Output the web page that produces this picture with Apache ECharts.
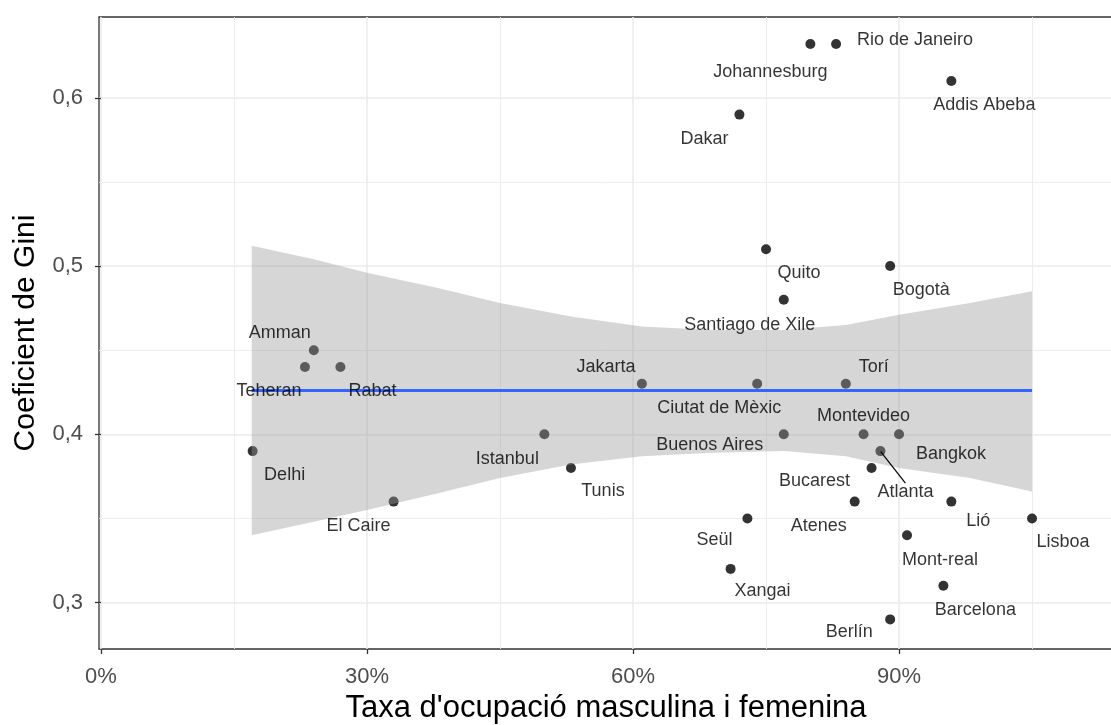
<!DOCTYPE html>
<html>
<head>
<meta charset="utf-8">
<script src="https://cdn.jsdelivr.net/npm/echarts@6/dist/echarts.min.js"></script>
<style>
html,body{margin:0;padding:0;background:#fff;}
#chart{width:1111px;height:725px;}
</style>
</head>
<body>
<div id="chart"></div>
<script>
// ---- data ----
const cities = ['Rio de Janeiro','Johannesburg','Addis Abeba','Dakar','Quito','Santiago de Xile','Bogotà','Amman','Teheran','Rabat','Delhi','El Caire','Jakarta','Ciutat de Mèxic','Istanbul','Tunis','Buenos Aires','Seül','Xangai','Torí','Montevideo','Bangkok','Atlanta','Bucarest','Atenes','Lió','Lisboa','Mont-real','Barcelona','Berlín'];
const occupation = [82.9,80.0,95.9,72.0,75.0,77.0,89.0,24.0,23.0,27.0,17.1,33.0,61.0,74.0,50.0,53.0,77.0,72.9,71.0,84.0,86.0,90.0,87.9,86.9,85.0,95.9,105.0,90.9,95.0,89.0];
const gini = [0.632,0.632,0.610,0.590,0.510,0.480,0.500,0.450,0.440,0.440,0.390,0.360,0.430,0.430,0.400,0.380,0.400,0.350,0.320,0.430,0.400,0.400,0.390,0.380,0.360,0.360,0.350,0.340,0.310,0.290];

// fitted line (lm) and its confidence band
const fitX = [17, 105];
const fitY = [0.426, 0.426];
const bandX = [17, 24, 30, 38, 45, 53, 61, 69, 77, 84, 90, 98, 105];
const bandUpper = [0.512, 0.504, 0.496, 0.487, 0.478, 0.470, 0.464, 0.462, 0.462, 0.465, 0.471, 0.478, 0.485];
const bandLower = [0.340, 0.348, 0.355, 0.365, 0.374, 0.382, 0.387, 0.389, 0.390, 0.387, 0.380, 0.374, 0.366];

// ticks
const xTicks = [0, 30, 60, 90];
const xMinor = [15, 45, 75, 105];
const yTicks = [0.3, 0.4, 0.5, 0.6];
const yMinor = [0.35, 0.45, 0.55];

// ---- label placement (pixel offsets, repel-style) ----
const labelOffset = {
  'Rio de Janeiro':[79,-4], 'Johannesburg':[-40,28], 'Addis Abeba':[33,24], 'Dakar':[-35,24],
  'Quito':[33,24], 'Santiago de Xile':[-34,25], 'Bogotà':[31,24], 'Amman':[-34,-17],
  'Teheran':[-36,24], 'Rabat':[32,24], 'Delhi':[32,24], 'El Caire':[-35,24],
  'Jakarta':[-36,-17], 'Ciutat de Mèxic':[-38,24], 'Istanbul':[-37,25], 'Tunis':[32,23],
  'Buenos Aires':[-74,11], 'Seül':[-33,22], 'Xangai':[32,22], 'Torí':[28,-17],
  'Montevideo':[0,-18], 'Bangkok':[52,20], 'Atlanta':[25,41], 'Bucarest':[-57,13],
  'Atenes':[-36,24], 'Lió':[27,19], 'Lisboa':[31,24], 'Mont-real':[33,25],
  'Barcelona':[32,24], 'Berlín':[-41,13]
};

const FONT = "'Liberation Sans', Arial, sans-serif";

// layout
const GRID_LEFT = 99, GRID_TOP = 17, GRID_W = 1014, GRID_H = 632;
const X_MIN = -0.226, X_MAX = 114.13;
const Y_MIN = 0.2724, Y_MAX = 0.6480;

const points = cities.map((c, i) => [occupation[i], gini[i]]);
const labelData = cities.map((c, i) => {
  const item = {
    name: c,
    value: [occupation[i], gini[i]],
    label: { offset: labelOffset[c] }
  };
  if (c === 'Atlanta') {
    item.labelLine = { show: true, lineStyle: { color: '#000', width: 1.2 } };
  }
  return item;
});

const gridLineData = []
  .concat(xTicks.map(v => ({ xAxis: v, lineStyle: { width: 1.6 } })))
  .concat(xMinor.map(v => ({ xAxis: v, lineStyle: { width: 0.9 } })))
  .concat(yTicks.map(v => ({ yAxis: v, lineStyle: { width: 1.6 } })))
  .concat(yMinor.map(v => ({ yAxis: v, lineStyle: { width: 0.9 } })));

const chart = echarts.init(document.getElementById('chart'), null, { renderer: 'canvas' });

const option = {
  animation: false,
  backgroundColor: '#ffffff',
  textStyle: { fontFamily: FONT },
  grid: {
    left: GRID_LEFT, top: GRID_TOP, width: GRID_W, height: GRID_H,
    show: true, borderColor: '#333333', borderWidth: 1.3, backgroundColor: 'transparent',
    containLabel: false, outerBoundsMode: 'none'
  },
  xAxis: {
    type: 'value', min: X_MIN, max: X_MAX,
    name: "Taxa d'ocupació masculina i femenina",
    nameLocation: 'middle', nameGap: 44,
    nameTextStyle: { fontSize: 31, color: '#000', fontFamily: FONT },
    axisLine: { show: false },
    axisTick: { show: true, length: 5, customValues: xTicks, lineStyle: { color: '#333333', width: 1.3 } },
    axisLabel: { customValues: xTicks, fontSize: 22, color: '#4D4D4D', margin: 17, fontFamily: FONT,
      formatter: v => Math.round(v) + '%' },
    splitLine: { show: false }
  },
  yAxis: {
    type: 'value', min: Y_MIN, max: Y_MAX,
    name: 'Coeficient de Gini',
    nameLocation: 'middle', nameGap: 58,
    nameTextStyle: { fontSize: 30, color: '#000', fontFamily: FONT },
    axisLine: { show: false },
    axisTick: { show: true, length: 6, customValues: yTicks, lineStyle: { color: '#333333', width: 1.3 } },
    axisLabel: { customValues: yTicks, fontSize: 22, color: '#4D4D4D', margin: 16, fontFamily: FONT,
      formatter: v => v.toFixed(1).replace('.', ',') },
    splitLine: { show: false }
  },
  series: [
    {
      // grid lines
      type: 'line', data: [], z: 0, silent: true,
      markLine: {
        z: 0, silent: true, symbol: 'none', animation: false,
        label: { show: false },
        lineStyle: { color: '#EBEBEB', type: 'solid' },
        data: gridLineData
      }
    },
    {
      type: 'scatter', z: 2, silent: true,
      data: points,
      symbol: 'circle', symbolSize: 10,
      itemStyle: { color: '#000000' }
    },
    {
      type: 'custom', z: 3, silent: true,
      data: bandX.map((x, i) => [x, bandUpper[i], bandLower[i]]),
      encode: { x: 0, y: [1, 2] },
      renderItem: function (params, api) {
        if (params.dataIndex !== 0) return null;
        const up = bandX.map((x, i) => api.coord([x, bandUpper[i]]));
        const lo = bandX.map((x, i) => api.coord([x, bandLower[i]])).reverse();
        return {
          type: 'polygon',
          shape: { points: up.concat(lo) },
          style: { fill: 'rgba(153,153,153,0.4)', stroke: null }
        };
      }
    },
    {
      type: 'line', z: 4, silent: true,
      data: fitX.map((x, i) => [x, fitY[i]]),
      symbol: 'none',
      lineStyle: { color: '#3366FF', width: 3 }
    },
    {
      type: 'scatter', z: 5, silent: true,
      data: labelData,
      symbol: 'circle', symbolSize: 1,
      itemStyle: { color: 'rgba(0,0,0,0)' },
      label: {
        show: true, position: 'inside',
        formatter: p => p.name,
        fontSize: 18, color: '#000000', fontFamily: FONT,
        align: 'center', verticalAlign: 'middle'
      }
    }
  ]
};

chart.setOption(option);
</script>
</body>
</html>
